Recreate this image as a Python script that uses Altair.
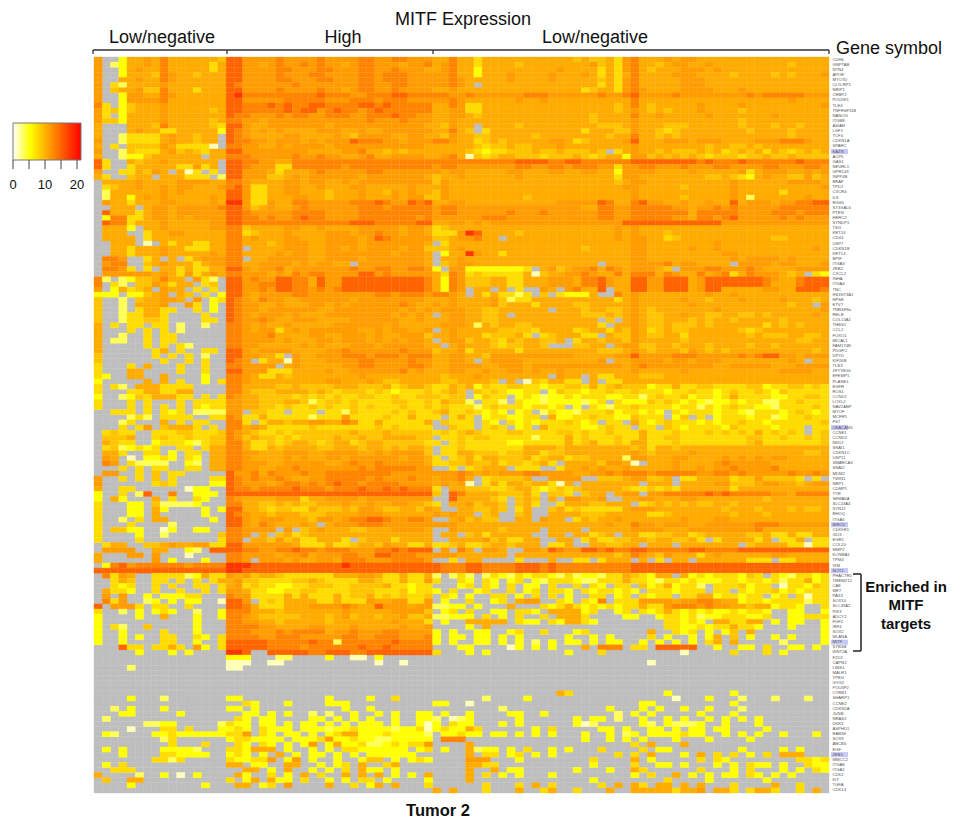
import altair as alt
import pandas as pd

genes = """CDH6 GNPTAB NTN4 APOE MYO7D CLYLRP1 NRIP1 CRBP2 POU5F1 TLE4 TNFRSF11B NANOG ITGB8 ASIAH LGF1 TCF4 CDKN1A SPARC KAZN ACP5
GAS1 NEURL1 GPR143 INPP4B BRAF TPD2 CXCR4 IL8 RGS5 ST3GAL6 PTEN HERC2 SYNDP1 TSG KRT16 CD44 USP7 CDKN1B KRT14 BPIF
ITGA3 ZEB2 CXCL2 INHA ITGA4 TNC HS3ST3A1 HPSE ETV7 TNRSF8a RELB COL13A1 THBS1 CCL2 FOXO1 MICAL1 FAM174B PDGFC DPYD KIF26B
TLE3 ZFYVE16 EFEMP1 PLANE1 EGFR ROS1 CCND1 LOXL2 NAV2ABP MYOF MCFR1 FST CEACAM1 CCNE1 CCND2 NKD2 SNAI1 CDKN1C USP11 SMARCA4
SNAI2 MDM2 TWIN1 NRP1 CDMP1 TYR SEMA6A SLC24A4 SYNJ2 RHOQ ITGA5 BIRC5 CDK5R1 GLI3 EGR1 COL20 MMP2 KCNMA1 TPM4 VIM
SLIT2 PHACTR1 TMEM212 CA8 MET PAX3 SOX10 SLC45A2 PIK3 ADCY2 FGF2 IRF4 SOX2 MLANA MITF SYBSB WNT2A F2D2 CAPN2 LIMS1
MALR1 TPBG GYG2 POU3F2 CYRB1 SHARP1 CCNE2 CDKN2A JUNB NRAS2 DKK3 ASPHD1 RAB38 SOX9 ABCB5 EGF ZEB1 MMCC2 ITGA8 ITGA2
CDK2 KIT TGFA CDK14""".split()
highlighted = ["KAZN", "CEACAM1", "BIRC5", "SLIT2", "MITF", "ZEB1"]

# one character per sample: "." is not measured, 0-9 index into level_values
level_values = [1.5, 3.5, 5.3, 7.5, 9.0, 10.5, 11.5, 13.0, 15.0, 18.0]

low_left = """
6..2 5565 7555 5554
6.12 5565 7555 5535
6..2 5655 7555 5535
6..2 5554 7655 4555
6..5 5655 7655 5555
6.31 5555 6555 5555
6.45 5644 7555 3555
6..2 6655 7655 5555
6..2 6666 7555 5555
73.2 4555 6555 5555
6342 4555 6555 5545
63.2 5555 6555 5555
6442 5555 6555 5545
5... 5554 7555 5543
5... 5655 3355 5552
5..1 3333 5655 455.
6..1 3333 5655 455.
5.3. 4444 6533 330.
6..1 4333 5645 4355
5..1 2245 5555 5.55
83.. 5455 6555 555.
83.. 3555 5533 635.
6..3 3546 5.50 3.3.
53.. 455. 5553 33.1
.555 5655 5566 6655
.345 5655 6566 5556
.155 5555 6565 5555
.155 2565 6555 5565
.655 3555 6655 5565
..55 5.56 6566 6667
.855 5356 6566 6666
.277 3356 6565 6666
.877 3555 6555 5566
.555 2.55 6555 5566
.555 ..35 5665 5555
.555 5.35 5555 5555
..55 5.0. 5355 3355
..55 3555 6553 3355
..55 3555 6555 5565
.776 ..35 .5.3 5666
.677 ..45 6555 3566
.776 3.3. 5535 3355
.666 6665 6536 3565
71.1 2445 755. 631.
7.31 .446 5355 .34.
6.25 345. 655. 3.3.
222. 2245 6.54 .3.2
4..1 .455 665. 6.23
4..1 .555 6..6 3.2.
4..1 .355 33.. 3.2.
4..1 3355 3... .3..
4..1 3344 3... .33.
5.3. 33.3 3.1. .1..
5... 3.3. 3.1. ....
5..1 ..3. 33.. ....
5.11 ..3. 33.. ....
5... ..3. 3.31 ....
5... ...3 5.3. .33.
4... ...3 .3.3 .1..
4... .... 3..3 .3..
3... 3.5. ..3. .3..
3... 55.. ..3. .3..
32.. 55.. 5... .2..
2... ..5. 5.3. .2.3
3.31 .555 3333 ....
3... 3355 3355 ....
2..1 2435 5533 .3.3
3... 3.3. ..3. 3333
3... 3.3. 3.3. 3233
..33 3.3. 323. 1111
.... 131. 3333 ..33
...1 3... 5.3. 33..
...3 .36. 4555 3.3.
.343 3..3 3344 3334
.444 5..3 4334 3344
.543 3..2 3332 1344
.341 2323 ..33 .355
.553 ..33 .2.3 3.55
.65. 0.22 32.3 2.55
.76. 3111 1..2 1.55
...3 .3.3 3..3 3.55
.66. .3.4 .33. ....
6..3 .3.4 .3.. ..33
6... ...3 43.. ..22
5..3 3... ...0 22..
2..3 .18. .7.. 222.
2.52 ...5 .3.. 32..
3... 22.4 1111 2...
3... 22.5 2... .2.2
3... 22.5 .... .2..
3..1 .3.5 5... ..2.
3... 3... .1.. ....
3.44 22.. 02.. 22..
3... .2.. 1... ...4
3... .3.. .... ...3
.355 ..44 5655 6633
.666 6..5 5..2 1.88
5... 66.6 ...0 ....
5... ...6 .2.. .2..
.278 6777 7776 7777
8888 8888 8888 8888
.736 5..3 3331 2533
..35 4..3 3.3. 3.35
..32 3..3 .3.. 33.3
.533 2..3 ..3. .3.3
.6.6 ..2. 2223 3...
.736 ..12 .2.2 2..0
8.66 63.3 3..3 ....
3..1 .2.2 32.. 1..2
2... .2.. 5... 2..2
2... .... .... 2...
2.31 ..4. .... 2...
2..2 .... 3... 2...
2..2 .2.. 33.. 32.3
2..2 .... 33.. 2..3
...8 33.3 353. 62.3
.... .2.. .2.2 ....
.... .... .... ....
.... .... .... ....
.... 1... .... ....
.... .... .... ....
.... .... .... ....
.... .... .... ....
.... .... .... ....
.... .... .... ....
.... 2... 1... ....
.... .... .... ....
..1. 2... 2... ....
...2 2... ..2. ....
.1.. .... .... ....
.... ..11 22.. ...1
.... 0... 33.3 ...2
.21. ...2 2322 2222
.... .... 13.. ....
.... .... .3.. .3..
.2.2 .... 2222 1...
...2 .... 3322 22..
.... ...3 313. ....
.2.3 .... .... ....
..33 3... .... ....
5... .1.. 2.0. 2...
.4.. 55.. .... ....
.... 2... .... .2..
.... .... .... ....
.... ..55 ...2 ....
""".strip().splitlines()

high = """
88 6666 7666 6766 6677 6677 666
88 6656 7667 6766 5677 6665 667
88 6666 7766 6776 6677 6676 665
88 6666 7666 7766 6677 6777 666
88 6666 7766 6776 6677 6777 666
87 6666 6676 6666 6677 6677 666
88 6666 7666 6766 5677 6676 666
89 7777 7777 7877 7667 7788 777
88 6666 6777 7766 6777 6777 666
88 7778 7877 8877 7788 7877 777
88 7777 7878 8678 7767 8777 777
87 7666 7677 6677 7667 7787 766
77 6656 6666 6666 6667 6667 666
88 6556 6666 6656 6666 6666 665
87 6565 6555 5666 5565 5666 666
87 6555 5665 5556 5466 6655 665
87 7665 6665 6566 6877 7665 666
77 6655 6566 6656 6666 6666 665
88 6666 6666 5555 6675 5454 555
77 7666 6676 6766 5567 5566 665
88 7766 5577 7777 7777 7777 777
88 7666 3377 7777 6777 7777 777
88 6665 3555 6766 6667 7666 666
88 6664 4565 6666 6656 6666 665
77 6555 5665 6655 6566 6666 666
78 6335 5665 5655 5665 5555 655
88 6335 5665 5545 5565 5465 655
88 6335 5566 5545 5565 5565 664
99 6336 5577 6666 6777 8766 878
88 6456 5567 6666 6677 7677 777
88 7666 6677 7766 6677 7777 777
88 7767 6678 7766 6677 7777 767
88 7777 7777 7777 7888 7777 788
77 4555 5665 5655 5566 6665 665
77 3455 5655 5566 6566 7665 665
77 5655 5665 5566 6656 8766 666
77 5554 5666 5566 6656 6666 665
77 .555 5666 5566 5656 6665 664
77 5555 6566 5566 6666 6656 665
77 .556 6666 5566 6656 6666 665
77 5566 6656 5665 5.66 6666 665
88 6566 7566 6666 6766 7766 776
77 6665 6576 7766 6688 6766 666
88 6766 8877 5866 8888 8888 887
88 6677 8877 5866 8888 8888 887
88 6676 8877 6767 8888 8888 887
88 6566 6677 6666 6666 7767 776
87 6576 6556 6666 6566 6666 665
87 6655 6555 6656 5666 6667 655
87 6656 6666 6556 6666 6665 656
87 6566 6565 5566 6666 6656 565
87 6676 5566 6555 5666 6665 565
77 6565 5655 5556 6666 6565 555
77 6566 3565 6666 6655 6566 556
77 6667 5555 6655 6665 6556 664
77 6666 5655 5665 6665 6565 665
77 6655 5556 5655 5666 5666 665
88 6566 6655 5566 7666 6667 666
88 6655 3.65 5666 7776 7776 777
87 6.35 5065 5566 6677 6666 766
77 6666 .565 5555 6677 6666 776
88 6663 3355 5565 5666 6667 565
77 6533 5455 5555 5565 5555 555
77 6555 5555 5566 5556 5445 555
77 5555 4454 4445 5544 4534 554
77 5444 5555 4543 4443 4323 334
76 5544 4434 3434 3344 3343 344
66 5544 4554 1344 3433 3344 334
66 5544 3433 4343 3434 3334 334
66 .443 3.33 3.33 1433 3343 433
76 3353 3333 1333 6333 3433 533
77 3.35 5455 6655 7633 5333 335
77 5653 3333 4333 3333 4343 333
76 5433 4344 4444 4544 4544 444
76 4544 3434 4445 4454 4555 544
77 5334 3455 4345 5345 5444 443
77 5335 4555 5445 5545 5454 554
77 6655 5666 5566 6655 6566 664
77 6555 5656 5566 5666 6665 665
77 6665 5666 6655 6766 7666 665
77 6655 6676 6666 6676 7777 766
86 6757 6667 6677 7777 7766 666
87 6766 7655 6677 7776 7666 766
87 6665 6776 7678 7767 7776 666
87 7677 7787 7767 7787 7878 777
88 8888 8888 8888 8888 8888 888
76 5555 6663 5566 6656 6666 666
77 5544 5454 4555 6556 5566 554
88 5543 4433 5444 5466 5445 546
87 6554 5554 4455 5566 6555 555
88 6566 6555 4665 6778 8766 776
88 6576 5556 5.56 6677 7666 666
77 6666 .6.4 5655 5445 5566 665
77 6.5. 4534 5555 5555 5555 555
77 .554 6453 3555 3.45 5535 555
88 6666 6653 3353 3455 4655 335
88 7766 7787 7677 7666 7787 888
77 6666 5667 5666 7766 8877 766
77 6.66 6565 5665 7776 6677 776
99 9888 8888 8888 9888 8888 888
99 8888 8888 8888 8888 8888 888
65 6455 4333 3335 5566 5335 335
56 4433 3344 5433 3355 4335 336
56 3433 2233 4443 3444 4533 233
66 5332 2334 4333 3444 3334 233
76 6333 3535 3335 3445 3434 334
88 6.34 3555 5335 3336 5566 336
88 7533 3555 6666 7655 8666 566
77 7555 4555 5555 6555 5566 664
77 6544 4445 5545 6455 4556 445
77 6655 4555 5545 5555 5565 553
77 7766 5555 6655 5655 5556 556
77 7666 7677 7756 6766 6776 666
77 7766 7776 6666 7766 7776 667
88 8887 7777 8771 7777 7787 777
88 8887 7776 7777 7787 7877 777
99 8..8 8888 7788 8778 8888 888
22 2... 11.. ..2. .00. 2... ...
00 0..0 0... .... .... 0..0 ...
00 .... .... .... .... .... ...
.. .... .... .... .... .... ...
.. .... .... .... .... .... ...
.. .... .... .... .... .... ...
.. .... .... .... .... .... ...
.. .... .... .... .... .... ...
22 .... .... ..2. ...2 ..3. ...
.. 32.. .2.. ..22 2... .... ...
22 .2.. .... .... 2..2 .... ...
.. 22.2 .2.. 1.1. .2.. 2.2. .22
.3 2.22 .... 22.2 .2.2 ..2. .22
32 2.22 .2.2 2.2. 2.22 2.2. .20
23 2.32 22.2 2212 2322 2212 230
33 6.32 .22. 2.23 5522 2322 221
23 3222 2.22 2362 2322 1122 222
.3 2.32 .2.2 6.25 2231 1232 336
33 2555 .2.. 2.2. 3322 2222 .23
23 2.2. 5.2. 22.2 .2.2 2222 2..
32 2336 .26. 2..2 ..24 4.2. 232
55 .22. .55. .2.2 3.5. .35. ...
.. 55.2 .5.. 2.2. 3.52 2.2. ...
.5 2..3 .2.5 .3.. 5.5. 5.2. 2.5
3. 25.5 22.3 ..2. 2.33 .2.. ..2
.5 5.23 .6.. ..5. .3.2 5.5. ..3
""".strip().splitlines()

low_right = """
5575 5355 5555 5555 5454 4536 7555 6566 5555 5555 5555 5555
5675 5355 5545 5555 5556 4536 7554 5665 5655 5555 5554 5555
5675 5255 5555 5556 5555 3536 7545 5566 6565 5555 5555 5555
6675 5255 5655 5565 5565 3535 7555 5666 5555 4555 5454 5556
6676 5555 5655 5565 5555 4536 7555 5566 6555 5555 5555 5555
6676 5.55 5555 5555 5555 3536 7555 5566 6555 5555 5555 5555
5565 5555 5555 5555 5534 5536 7655 5566 6655 5655 5555 5555
7766 7666 6667 7766 6666 7667 8666 6766 6666 6676 7777 7666
6676 5555 5565 5655 5555 5555 7555 5555 5555 5555 5556 5555
5576 3355 5555 5555 5555 5545 7545 5555 6555 5655 5555 5556
5566 3355 5555 5555 5555 5545 6545 4555 6555 5455 5555 5555
5566 5455 5555 5555 5554 5555 7556 5555 5655 5555 5655 5555
5565 5555 5555 5555 5554 5555 6555 5555 5555 5455 5555 5555
5465 5.55 5545 5555 5555 4445 6555 4445 5555 5455 5455 4555
5575 4.35 5555 5555 5535 5544 6554 3455 5555 5545 5554 5555
5465 5445 5555 4555 5555 5455 7554 5455 5555 5555 5554 5555
7765 5345 4555 5566 5345 5556 8555 6665 6665 5556 6677 7655
5555 5434 4544 5556 5555 5555 6555 5555 5455 4454 5555 5555
5555 4323 3444 5445 4445 4.35 6554 5444 5453 4545 3543 4545
5675 0434 5544 4344 4543 4552 6645 4545 4344 4344 5445 4444
7777 7777 7788 8877 8877 7777 8888 8888 7877 7877 7777 8777
6776 6666 6677 6677 6777 6636 6776 6676 6677 6666 7766 6776
6566 5555 5665 5566 5566 5526 6665 5556 5555 5635 6665 5656
4556 5555 5565 5555 5555 5536 6555 5555 5445 4325 6554 4645
4655 5555 5555 5555 5555 5545 6655 5555 5555 6555 5556 6665
5655 5555 5555 5555 5555 5556 6555 5545 5555 6555 5555 5556
4655 5555 5555 5555 5555 5555 6555 5555 5555 6555 5535 5555
4655 5555 5554 5555 5555 5555 6555 5545 5555 6515 5555 5655
5566 5555 5555 5556 6666 8755 7866 5565 5655 8566 6566 7788
6776 6666 6666 6666 6655 7766 7777 7665 6676 7666 6677 7777
6776 6666 6766 6766 6666 7766 7777 7775 7777 7666 6777 6777
6666 6677 7666 6666 6666 7766 7777 7665 7767 8666 6676 7666
5566 5656 6666 6666 6666 6668 8888 8888 8886 6666 6666 6666
3455 5555 5555 5555 5555 5565 6555 5555 5555 5555 5555 5555
3336 9855 5545 5555 5555 5565 6555 4555 5555 5555 5555 5555
4456 6755 .555 5555 5555 5565 6655 3455 5555 5555 5445 5555
.355 5555 5555 5555 5555 5555 6655 5555 5565 5555 5555 5555
4456 5555 5555 5555 5545 5555 6655 5556 5565 5555 5555 5565
.255 9655 3555 5555 5555 5555 6655 5555 5556 6555 5555 5555
.556 5555 5555 5555 5555 5555 6655 5555 5555 6566 6656 5555
.456 6555 5555 5555 5555 .555 6666 7566 5555 .666 6566 5556
2.66 2222 2223 .564 5667 5765 6665 4.66 6776 6676 5555 6666
5376 3433 3335 0455 6676 5575 7775 7655 7567 3576 6654 5.32
5276 4445 5335 5566 6577 8655 8866 8885 6888 8888 7655 7888
5276 4445 5335 5566 6577 8655 8866 8885 6888 8888 7555 7888
5276 .55. 5.3. .65. 6755 8.55 8866 8885 6885 5555 6655 8887
7765 .535 3313 .4.3 2225 ..75 6555 5555 5655 6555 5555 5555
5565 5556 4133 5555 5555 5535 6555 5565 5455 5655 5565 5545
6565 5556 4555 3555 5445 5555 6555 5556 5555 5555 5554 55.6
5666 5544 5555 55.5 5545 5445 6545 5555 5565 5555 5555 5556
.566 5544 5.55 5555 5544 4545 6544 5565 5445 5445 4555 5565
5566 5544 5555 5555 5555 .4.5 6544 5554 5455 4555 5545 5555
5666 5154 5544 5555 5555 3.55 6544 5444 5455 5555 3545 4555
.565 5555 4444 3555 5345 5354 6534 5445 5555 5434 5555 5555
5565 5534 4453 .345 5533 .544 6544 5535 5555 5545 4445 5445
.566 4554 3545 5445 .355 4554 6555 5545 5555 5555 5555 4455
5.56 5554 3445 54.. .445 5.56 6445 5455 5455 5545 5455 5555
4556 3555 5535 5555 5555 4445 6545 5546 5454 5555 5555 5545
5566 5546 6666 6666 6555 5566 8666 6777 6666 6767 8866 5666
5566 5.56 6665 5555 5555 6.55 6666 5665 6665 5555 5556 5.55
5566 6655 6665 6666 6666 6665 6766 6666 6655 6666 6555 6666
5566 5565 5665 6556 5555 5555 6555 5565 5555 5555 5566 6655
5455 5655 5555 55.6 55.5 3355 5444 5555 5555 5555 5555 5555
5445 5554 .5.0 4355 33.5 .335 5555 5555 5555 5555 5555 5555
3354 5243 3443 3233 4435 3454 4423 3533 4433 3344 2334 4343
3454 .434 3223 3.24 3323 3433 4333 2334 3323 4334 3243 3333
4344 .243 3.23 2122 3233 3223 3134 3342 3323 5333 3223 3443
3544 1.33 1.32 2122 2212 3.32 2243 4323 2122 3233 1133 4333
3433 3134 3332 3323 .2.3 2133 4333 3233 1323 4332 2133 3343
4533 4323 2.23 .132 2133 3423 3232 .323 3323 3213 3323 4323
3.35 3.23 3223 3.52 2334 3322 4333 .24. 3.23 3323 3123 3433
.433 3.32 .323 2333 4323 .33. 5323 4333 2323 3433 2333 3334
..43 3.34 3.23 .533 3322 3433 .33. 4323 3332 4333 3233 3.33
3434 5433 3443 3334 4343 3433 3533 3433 3434 3435 3434 3.34
.334 3443 3333 1333 5343 3343 3533 4433 3333 3344 3343 3434
3.34 3333 3223 3333 5345 3343 5533 3433 3333 3345 3333 3334
.334 3333 3335 5554 5555 5555 4535 5455 5555 5555 5555 5555
.335 5444 3445 5344 5555 5555 6545 5556 5555 5555 5555 5445
3.34 5355 4445 3455 3445 5551 6655 5665 5556 5656 5665 5555
3344 5445 3443 453. 5555 4665 0.55 5655 5567 6666 6555 5555
..3. 3455 5.33 3..3 5565 6556 5555 5655 6566 7666 6755 5555
6667 6565 6667 7666 6556 6767 7767 7777 6677 6766 6667 6676
5667 5.34 4445 ..66 66.. 4445 6644 5.33 5555 3446 4444 3.3.
5656 0.35 3554 5530 5.55 5555 5.55 5.55 5566 4445 6655 4566
3.55 4443 3455 3234 3455 5554 3343 4355 5555 3555 5555 5555
4.87 5555 4445 3.44 3.45 5.56 6.66 7777 7878 7777 7665 7777
..85 5554 3.45 4.5. 6655 6..5 5665 5566 5555 5555 4555 5555
3.55 6455 4.45 3..3 5554 4555 .345 4545 4455 4555 5555 5555
5..5 5445 4.35 ..45 3433 3335 6665 5555 5554 5554 5554 5445
6565 5.45 ..45 ..55 5544 4555 5533 4555 5555 4555 4555 5555
..56 4544 ..55 .655 .354 5565 5555 5565 5566 5555 5555 5555
6665 5555 5555 5555 5555 5655 7665 6665 5666 6667 7766 6666
..65 5555 4555 5.55 55.5 5555 6666 5556 6666 6667 5555 5555
.55. 4535 5555 ..55 .553 45.5 5334 4553 4555 5544 5335 3355
..55 5564 5335 5..5 5.35 3344 5545 5445 3.35 5553 5.33 5.33
3345 3345 5455 5.33 5..5 5445 5.55 5.55 5555 5.45 5553 3033
.6.7 5.66 5..6 6587 6688 7877 8877 7778 8777 7888 8888 8888
6665 5555 5.55 5555 5555 5545 7654 6555 3565 5555 5665 5555
..3. 55.. ..3. ..5. .33. 3555 .5.3 .55. 5555 5533 3.33 5555
8777 8877 7788 8787 7777 7777 8888 8888 8888 8888 8888 8888
8777 8877 7788 8787 7777 7777 8888 8888 8888 8888 8888 8888
1.13 1.13 2132 3321 3122 1335 4325 5.52 3233 3243 .321 3323
3..3 2.32 .23. 2133 3211 3335 3321 3323 2223 3233 2313 3523
...2 3.32 .3.2 2.3. .3.3 2.33 .423 5233 1.33 3423 3.03 3243
2.3. .23. .3.2 3.33 2.32 3323 2.33 3233 3.33 .323 3423 2333
.32. 2..3 3.2. 3.3. 2..3 3.23 .323 3.33 5523 3233 .23. 3033
.2.. 3..2 3.56 6..3 2.32 7.33 3666 6566 7765 5233 2333 3133
1122 .2.. .5.. .323 5323 2323 3533 6777 6766 5545 5233 2..3
.23. 3..2 2.33 2.55 5523 ..23 .323 5323 2322 3233 2..2 2..2
1122 2.3. 2.3. .3.5 553. ...2 2..2 3323 1223 3322 3..2 2333
.2.. 5555 5.32 2.32 5532 .... .... 3323 2.55 3355 .2.2 2..2
.... 2.5. .... .... .... .... .... 3322 3233 5332 ...2 ...2
2.2. .22. .23. .3.. .23. .... ..5. .323 .2.2 4.5. .... ...2
2.22 .22. 2.2. .... 2..2 .2.. ..3. 2..2 .25. 4.2. .2.2 ...2
2.2. .22. 2.2. 1.2. 22.2 .22. .2.2 .2.2 .35. 5... ..1. ...2
...2 2... .02. 2.2. ..5. 777. 33.8 8888 ..2. .22. 3..2 2.2.
3... 2.2. .... .... 2... 3... .... ..0. .... 3... 3.2. ....
.... .... .... .... .... .... .... .... .... .... .... ....
.... .... .... .... .... .... ..0. .... .... .... .... ....
.... .... .... .... .... .... .... .... .... .... .... ....
.... .... .... .... .... .... .... .... .... .... .... ....
.... .... .... .... .... .... .... .... .... .... .... ....
.... .... .... .... .... .... .... .... .... .... .... ....
.... .... .... .... .... .... .... .... .... .... .... ....
.... .... .... ...5 3... .... .... 2... .... 2... .... ....
.... ..1. ...2 .... .... .... .... .0.. .2.. .1.. .1.. .1..
22.. 0... .... .... .... .... .22. .... .... 2... .... ....
.... .... 1... .... .... .2.. .2.2 ..2. .2.. .1.. .... ....
.2.. 2... .22. .2.. .... ..1. 2.2. .... 2... 2... .... ....
1.01 2... ..2. .... .2.2 2.1. .2.. 2.2. .2.2 .2.2 .... ....
2.32 2... 2.2. .... .201 .... .21. 2111 2..2 ...2 .... ....
2322 53.. .... 2.3. .... 22.2 ..22 .2.2 2.22 .... 2... ....
.223 22.2 2.2. 2.2. ..2. .2.1 2.22 2232 2..2 .2.2 ..2. ..2.
.777 .... .... .... ..2. .2.2 .2.. .2.. .2.. ..2. .... ....
.... 5... .... .... .... .... 3.5. ..5. .... .... .... ....
.2.. 5122 .2.3 ..2. 2... 3... .3.2 2... .... .2.. ..2. 2...
.... 5.33 .23. 2.2. .... ..3. 3.5. ..2. 5.3. 3.2. 3.55 5...
.... 666. ..2. .... ...3 .... 5.2. .... 3.32 .... .... 3323
.... 5533 .... .... ...2 .... 3..2 2.2. ..2. 2.32 2.2. .322
.... 5..5 .22. .... .2.. .2.. 53.. .... 3... 2.3. ..2. 2.32
.... 5.3. 2.2. ..2. .... .... 2.3. .5.2 .2.2 2.32 .2.2 ....
.... 5... .... .... ...2 .... .... 3... .2.. .... 2... ....
.... ..3. ..3. 5.3. .... 3.5. 53.5 5.5. 5... 3... .5.. 3...
5.5. ..3. ..5. .35. .3.. .5.. 5555 5355 6.55 3.35 53.. 3.5.
""".strip().splitlines()

def clean(lines, n):
    out = [ln.replace(" ", "") for ln in lines]
    return [(ln + "." * n)[:n] for ln in out] + ["." * n] * (len(genes) - len(out))

rows_a, rows_b, rows_c = clean(low_left, 16), clean(high, 25), clean(low_right, 48)
n_cols = 89
cells_on, cells_off = [], []
for r, gene in enumerate(genes):
    row = rows_a[r] + rows_b[r] + rows_c[r]
    for c, ch in enumerate(row):
        if ch == ".":
            cells_off.append({"gene": gene, "sample": c})
        else:
            v = level_values[int(ch)]
            cells_on.append({"gene": gene, "sample": c, "v": v})

color_scale = alt.Scale(domain=[0, 5.3, 21.3], range=["#ffffff", "#ffff00", "#ff0000"], clamp=True, interpolate="rgb")
x_enc = alt.X("sample:O", axis=None, scale=alt.Scale(domain=list(range(n_cols)), paddingInner=0, paddingOuter=0))
y_enc = alt.Y("gene:N", sort=genes, title=None, scale=alt.Scale(domain=genes, paddingInner=0, paddingOuter=0),
              axis=alt.Axis(orient="right", domain=False, ticks=False, grid=False, labelFontSize=4.2, labelPadding=3,
                            labelColor="#555555", labelFont="Liberation Sans", labelOverlap=False, labelLimit=60))

on = alt.Chart(pd.DataFrame(cells_on)).mark_rect(strokeWidth=0.35).encode(
    x=x_enc, y=y_enc,
    color=alt.Color("v:Q", scale=color_scale, legend=None),
    stroke=alt.Stroke("v:Q", scale=color_scale, legend=None),
)
off = alt.Chart(pd.DataFrame(cells_off)).mark_rect(color="#bebebe", stroke="#bebebe", strokeWidth=0.35).encode(x=x_enc, y=y_enc)
marks = alt.Chart(pd.DataFrame({"gene": highlighted})).mark_rect(color="#c9c9f5").encode(
    y=alt.Y("gene:N", sort=genes, title=None), x=alt.value(737), x2=alt.value(754))

def note(text, x, y, size=18, weight="normal"):
    return alt.Chart(pd.DataFrame({"t": [text]})).mark_text(
        fontSize=size, font="Liberation Sans", fontWeight=weight, color="#111111", align="center", baseline="middle"
    ).encode(text="t:N", x=alt.value(x), y=alt.value(y))

def line(x1, y1, x2, y2, width=1.3, color="#333333"):
    return alt.Chart(pd.DataFrame({"a": [0]})).mark_rule(color=color, strokeWidth=width).encode(
        x=alt.value(x1), y=alt.value(y1), x2=alt.value(x2), y2=alt.value(y2))

key_fill = alt.LinearGradient(gradient="linear", x1=0, x2=1, y1=0, y2=0, stops=[
    alt.GradientStop(color="#ffffff", offset=0), alt.GradientStop(color="#ffff00", offset=0.25),
    alt.GradientStop(color="#ff0000", offset=1)])
key = alt.Chart(pd.DataFrame({"a": [0]})).mark_rect(fill=key_fill, stroke="#777777", strokeWidth=1).encode(
    x=alt.value(-81), x2=alt.value(-13), y=alt.value(66), y2=alt.value(103))

extras = [
    key,
    note("0", -81, 128, 13),
    note("10", -49, 128, 13),
    note("20", -17, 128, 13),
    note("MITF Expression", 369, -37),
    note("Low/negative", 68, -19),
    note("High", 249, -19),
    note("Low/negative", 501, -19),
    note("Gene symbol", 795, -8),
    note("Tumor 2", 344, 754, 16.5, "bold"),
    note("Enriched in", 812, 530, 15, "bold"),
    note("MITF", 812, 548, 15, "bold"),
    note("targets", 812, 567, 15, "bold"),
    line(-1, -7, 735, -7),
    line(-1, -7, -1, -3),
    line(133, -7, 133, -3),
    line(339, -7, 339, -3),
    line(735, -7, 735, -3),
    line(767, 517, 767, 594, 1.5, "#222222"),
    line(759, 517, 767, 517, 1.5, "#222222"),
    line(759, 594, 767, 594, 1.5, "#222222"),
    line(-81, 103, -81, 112, 1, "#444444"),
    line(-65, 103, -65, 112, 1, "#444444"),
    line(-49, 103, -49, 112, 1, "#444444"),
    line(-33, 103, -33, 112, 1, "#444444"),
    line(-17, 103, -17, 112, 1, "#444444"),
]

chart = alt.layer(marks, off, on, *extras).properties(
    width=735, height=736, padding={"left": 86, "top": 49, "right": 119, "bottom": 27},
    autosize=alt.AutoSizeParams(type="none"), background="white",
).configure_view(stroke=None)
chart.save("out.html", embed_options={"renderer": "svg", "actions": False})
